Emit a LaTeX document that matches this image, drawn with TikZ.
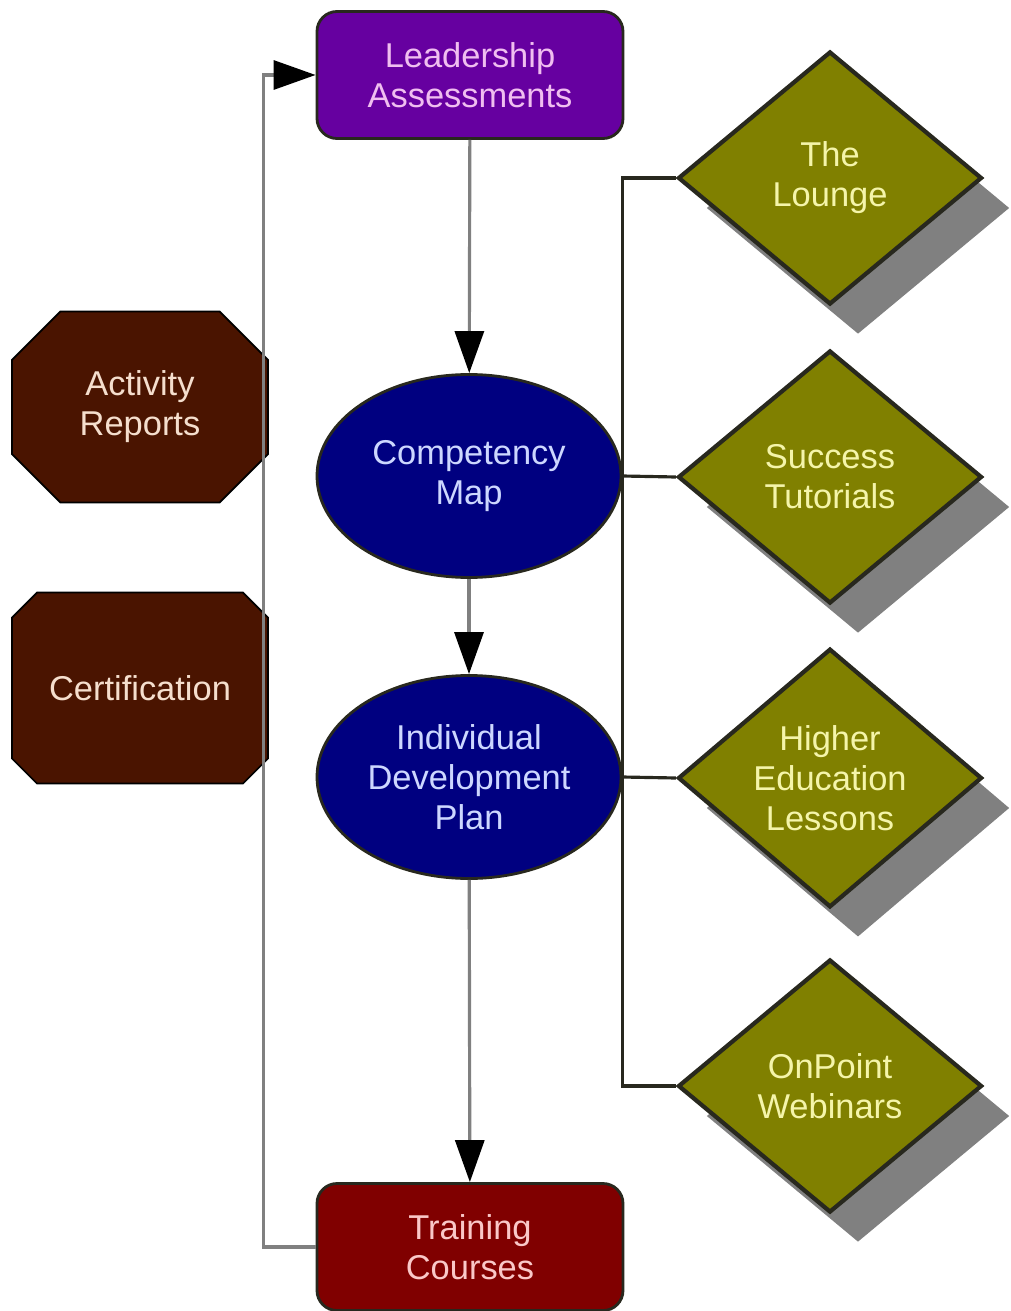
\documentclass[tikz,border=0pt]{standalone}
\usepackage{fontspec}
\setmainfont{Liberation Sans}
\usepackage{tikz}
\usepackage{xcolor}
\usetikzlibrary{arrows.meta, shapes.geometric, shapes.misc, shadows, positioning}

\definecolor{leadfill}{RGB}{102,0,160}
\definecolor{leadtext}{RGB}{240,190,240}
\definecolor{mapfill}{RGB}{0,0,128}
\definecolor{maptext}{RGB}{205,215,255}
\definecolor{trainfill}{RGB}{128,0,0}
\definecolor{traintext}{RGB}{250,200,200}
\definecolor{octfill}{RGB}{74,20,0}
\definecolor{octtext}{RGB}{245,222,205}
\definecolor{olive}{RGB}{128,128,0}
\definecolor{olivetext}{RGB}{245,245,170}
\definecolor{edge}{RGB}{40,40,30}
\definecolor{flow}{RGB}{128,128,128}

\begin{document}
\begin{tikzpicture}[
    font=\fontsize{9.8}{11.4}\selectfont,
    box/.style={rectangle, rounded corners=0.2cm, draw=edge, line width=0.8pt,
        minimum width=3.06cm, minimum height=1.27cm, align=center},
    oval/.style={ellipse, draw=edge, line width=0.8pt, fill=mapfill, text=maptext,
        minimum width=3.04cm, minimum height=2.03cm, inner sep=0pt, align=center},
    octo/.style={chamfered rectangle, chamfered rectangle xsep=0.45cm,
        draw=black, line width=0.5pt, fill=octfill, text=octtext,
        minimum width=2.56cm, minimum height=1.91cm, inner sep=0pt, align=center},
    gem/.style={diamond, draw=edge, line width=1.2pt, fill=olive, text=olivetext,
        minimum width=3.04cm, minimum height=2.53cm, inner sep=0pt, align=center,
        drop shadow={shadow xshift=0.28cm, shadow yshift=-0.3cm, fill=flow, opacity=1}},
    flowline/.style={draw=flow, line width=0.9pt, -{Triangle[length=0.42cm, width=0.29cm, fill=black, color=black]}},
    busline/.style={draw=edge, line width=0.9pt}
  ]
  \useasboundingbox (0,0) rectangle (10.10,-13.11);

  % main column
  \node[box, fill=leadfill, text=leadtext] (lead) at (4.70, -0.75) {Leadership\\Assessments};
  \node[oval] (cmap) at (4.69, -4.76) {Competency\\Map};
  \node[oval] (idp) at (4.69, -7.77) {Individual\\Development\\Plan};
  \node[box, fill=trainfill, text=traintext] (train) at (4.70, -12.47) {Training\\Courses};

  % left side
  \node[octo] (reports) at (1.40, -4.07) {Activity\\Reports};
  \node[octo] (cert) at (1.40, -6.88) {Certification};

  % right side
  \node[gem] (lounge) at (8.30, -1.78) {The\\Lounge};
  \node[gem] (tutor) at (8.30, -4.77) {Success\\Tutorials};
  \node[gem] (higher) at (8.30, -7.78) {Higher\\Education\\Lessons};
  \node[gem] (webinar) at (8.30, -10.86) {OnPoint\\Webinars};

  % connectors
  \draw[flowline] (lead) -- (cmap);
  \draw[flowline] (cmap) -- (idp);
  \draw[flowline] (idp) -- (train);
  \draw[flowline] (train.west) -- ++(-0.52,0) |- (lead.west);

  \draw[busline] (lounge.west) -- ++(-0.53,0) |- (webinar.west);
  \draw[busline] (cmap.east) -- (tutor.west);
  \draw[busline] (idp.east) -- (higher.west);
\end{tikzpicture}
\end{document}
